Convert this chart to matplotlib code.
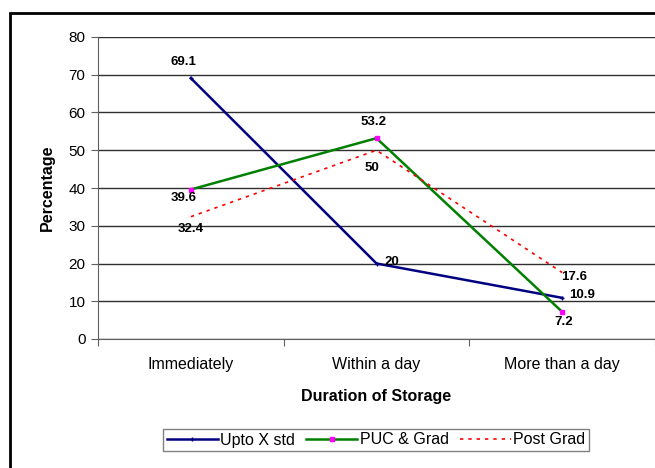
import matplotlib
matplotlib.use("Agg")
import matplotlib.pyplot as plt
from matplotlib.patches import Rectangle

plt.rcParams['font.family'] = ['Liberation Sans', 'DejaVu Sans']

categories = ["Immediately", "Within a day", "More than a day"]
upto_x = [69.1, 20, 10.9]
puc_grad = [39.6, 53.2, 7.2]
post_grad = [32.4, 50, 17.6]
series_names = ["Upto X std", "PUC & Grad", "Post Grad"]
yticks = [0, 10, 20, 30, 40, 50, 60, 70, 80]

fig = plt.figure(figsize=(6.55, 4.68), dpi=100)
ax = fig.add_axes([98/655, (468-339)/468, 557/655, (339-37)/468])

x = [0.5, 1.5, 2.5]
ax.plot(x, upto_x, color='#000080', lw=1.8, marker='+', ms=3, mew=1, label=series_names[0])
ax.plot(x, puc_grad, color='#008000', lw=1.8, marker='s', ms=3.5, mfc='#FF00FF', mec='#FF00FF', label=series_names[1])
ax.plot(x, post_grad, color='#FF0000', lw=1.2, ls=(0, (2, 3)), label=series_names[2])

ax.set_xlim(0, 3)
ax.set_ylim(0, 80)
ax.set_yticks(yticks)
ax.set_xticks([0, 1, 2, 3])
ax.set_xticklabels([])
ax.set_xticks(x, minor=True)
ax.set_xticklabels(categories, minor=True, fontsize=11.5)
ax.tick_params(axis='x', which='minor', length=0, pad=13)
ax.tick_params(axis='x', which='major', length=5, color='#606060')
ax.tick_params(axis='y', length=5, color='#606060', labelsize=11, pad=4)
ax.yaxis.grid(True, color='#303030', lw=1)
ax.set_axisbelow(True)
for s in ['top', 'right']:
    ax.spines[s].set_visible(False)
ax.spines['left'].set_color('#606060')
ax.spines['bottom'].set_color('#606060')

ax.set_xlabel("Duration of Storage", fontsize=11.5, fontweight='bold', labelpad=12)
ax.set_ylabel("Percentage", fontsize=11.5, fontweight='bold', labelpad=10)

fs = 9.5
kw = dict(fontsize=fs, fontweight='bold', color='black')
# Upto X std labels
ax.annotate(f"{upto_x[0]:g}", (x[0], upto_x[0]), xytext=(-5, 7), textcoords='offset points', ha='center', va='bottom', **kw)
ax.annotate(f"{upto_x[1]:g}", (x[1], upto_x[1]), xytext=(6, 1), textcoords='offset points', ha='left', va='center', **kw)
ax.annotate(f"{upto_x[2]:g}", (x[2], upto_x[2]), xytext=(5, 2), textcoords='offset points', ha='left', va='center', **kw)
# PUC & Grad labels
ax.annotate(f"{puc_grad[0]:g}", (x[0], puc_grad[0]), xytext=(-5, -6), textcoords='offset points', ha='center', va='center', **kw)
ax.annotate(f"{puc_grad[1]:g}", (x[1], puc_grad[1]), xytext=(-2, 7), textcoords='offset points', ha='center', va='bottom', **kw)
ax.annotate(f"{puc_grad[2]:g}", (x[2], puc_grad[2]), xytext=(1, -7), textcoords='offset points', ha='center', va='center', **kw)
# Post Grad labels
ax.annotate(f"{post_grad[0]:g}", (x[0], post_grad[0]), xytext=(0, -9), textcoords='offset points', ha='center', va='center', **kw)
ax.annotate(f"{post_grad[1]:g}", (x[1], post_grad[1]), xytext=(-3, -13), textcoords='offset points', ha='center', va='center', **kw)
ax.annotate(f"{post_grad[2]:g}", (x[2], post_grad[2]), xytext=(-1, -3), textcoords='offset points', ha='left', va='center', **kw)

leg = fig.legend(loc='center', bbox_to_anchor=(376/655, 1 - 440/468), ncol=3, fontsize=11.5,
                 frameon=True, fancybox=False, edgecolor='#606060', borderpad=0.25,
                 handlelength=3.2, handletextpad=0.15, columnspacing=0.7, numpoints=1)
leg.get_frame().set_linewidth(1)

fig.patches.append(Rectangle((10/655, -0.1), 1.0, 1 - 13/468 + 0.1, transform=fig.transFigure,
                             fill=False, edgecolor='black', lw=2))

fig.savefig("out.png", dpi=100)
